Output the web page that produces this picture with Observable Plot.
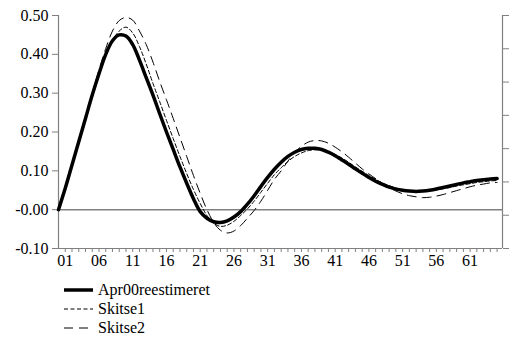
<!DOCTYPE html>
<html>
<head>
<meta charset="utf-8">
<script src="https://cdn.jsdelivr.net/npm/d3@7"></script>
<script src="https://cdn.jsdelivr.net/npm/@observablehq/plot@0.6"></script>
<style>
  html, body { margin: 0; padding: 0; background: #fff; }
  #chart { width: 510px; }
  .legend { font-family: "Liberation Serif", "DejaVu Serif", serif; font-size: 16px; color: #000; margin-left: 64px; margin-top: 10px; }
  .legend .row { display: flex; align-items: center; height: 19px; }
  .legend svg { margin-right: 5px; }
</style>
</head>
<body>
<div id="chart"></div>
<script>
// Categories (periods), labelled every 5th from 01
const periods = d3.range(0, 66);
const xTickLabels = ["01","06","11","16","21","26","31","36","41","46","51","56","61"];
const xTickPositions = [1,6,11,16,21,26,31,36,41,46,51,56,61];
const yTicks = [0.5, 0.4, 0.3, 0.2, 0.1, 0, -0.1];
const yTickLabels = ["0.50","0.40","0.30","0.20","0.10","-0.00","-0.10"];
const rightTicks = [0.5, 0.4143, 0.3286, 0.2429, 0.1571, 0.0714, -0.0143, -0.1];

const seriesNames = ["Apr00reestimeret", "Skitse1", "Skitse2"];

const apr00 = [
  0.000, 0.055, 0.115, 0.175, 0.235, 0.295, 0.350, 0.400, 0.435, 0.450,
  0.447, 0.425, 0.385, 0.340, 0.295, 0.247, 0.200, 0.155, 0.110, 0.068,
  0.028, -0.005, -0.022, -0.031, -0.033, -0.029, -0.019, -0.005, 0.014, 0.036,
  0.060, 0.083, 0.104, 0.122, 0.137, 0.148, 0.155, 0.158, 0.158, 0.155,
  0.148, 0.139, 0.128, 0.117, 0.105, 0.094, 0.083, 0.073, 0.065, 0.058,
  0.053, 0.050, 0.048, 0.047, 0.048, 0.050, 0.053, 0.057, 0.061, 0.065,
  0.069, 0.072, 0.075, 0.077, 0.079, 0.080
];
const skitse1 = [
  0.000, 0.052, 0.110, 0.170, 0.230, 0.290, 0.345, 0.395, 0.435, 0.460,
  0.470, 0.455, 0.420, 0.375, 0.325, 0.278, 0.230, 0.183, 0.137, 0.093,
  0.052, 0.016, -0.015, -0.035, -0.043, -0.040, -0.030, -0.015, 0.002, 0.022,
  0.045, 0.068, 0.090, 0.108, 0.124, 0.137, 0.146, 0.152, 0.154, 0.153,
  0.149, 0.142, 0.133, 0.122, 0.110, 0.099, 0.088, 0.078, 0.069, 0.062,
  0.056, 0.052, 0.049, 0.048, 0.048, 0.049, 0.051, 0.054, 0.057, 0.061,
  0.064, 0.067, 0.070, 0.072, 0.074, 0.075
];
const skitse2 = [
  0.000, 0.055, 0.115, 0.178, 0.240, 0.300, 0.360, 0.415, 0.460, 0.487,
  0.495, 0.488, 0.460, 0.425, 0.380, 0.330, 0.283, 0.235, 0.186, 0.137,
  0.088, 0.042, 0.000, -0.033, -0.053, -0.060, -0.055, -0.041, -0.022, -0.002,
  0.022, 0.050, 0.078, 0.100, 0.125, 0.147, 0.163, 0.174, 0.178, 0.177,
  0.171, 0.161, 0.149, 0.135, 0.120, 0.105, 0.092, 0.080, 0.068, 0.057,
  0.048, 0.041, 0.036, 0.033, 0.031, 0.032, 0.035, 0.039, 0.044, 0.049,
  0.054, 0.059, 0.063, 0.066, 0.069, 0.070
];

const toRows = (vals) => periods.map((p, i) => ({x: p, y: vals[i]}));
const gray = "#808080";
const xMax = 65.8;
const serifStack = "'Liberation Serif', 'DejaVu Serif', serif";

const chart = Plot.plot({
  width: 510,
  height: 270,
  marginLeft: 58,
  marginRight: 8,
  marginTop: 15,
  marginBottom: 22,
  style: {fontFamily: serifStack, fontSize: "16px", color: "#000", background: "#fff", overflow: "visible"},
  x: {domain: [0, xMax], axis: null},
  y: {domain: [-0.1, 0.5], axis: null},
  marks: [
    Plot.ruleY([0], {stroke: gray, strokeWidth: 1.5}),
    Plot.ruleX([0], {y1: -0.1, y2: 0.5, stroke: gray, strokeWidth: 1.2}),
    Plot.ruleX([xMax], {y1: -0.1, y2: 0.5, stroke: gray, strokeWidth: 1.2}),
    Plot.ruleY([-0.1], {x1: 0, x2: xMax, stroke: gray, strokeWidth: 1.2}),
    Plot.axisY({anchor: "left", ticks: yTicks, tickSize: 6, tickPadding: 4, label: null,
      tickFormat: (d) => yTickLabels[yTicks.indexOf(d)], stroke: gray, fill: "#000",
      fontSize: 16, fontFamily: serifStack}),
    Plot.axisY({anchor: "right", ticks: rightTicks, tickSize: 6, label: null, tickFormat: () => "", stroke: gray}),
    Plot.axisX({ticks: periods.slice(1), tickSize: 4, tickPadding: 2, label: null,
      tickFormat: (d) => { const k = xTickPositions.indexOf(d); return k >= 0 ? xTickLabels[k] : ""; },
      stroke: gray, fill: "#000", fontSize: 16, fontFamily: serifStack}),
    Plot.line(toRows(apr00), {x: "x", y: "y", stroke: "#000", strokeWidth: 3.5, curve: "catmull-rom"}),
    Plot.line(toRows(skitse1), {x: "x", y: "y", stroke: "#000", strokeWidth: 1, strokeDasharray: "4,2.5", curve: "catmull-rom"}),
    Plot.line(toRows(skitse2), {x: "x", y: "y", stroke: "#000", strokeWidth: 1, strokeDasharray: "9,6", curve: "catmull-rom"})
  ]
});
document.getElementById("chart").appendChild(chart);

// Legend below the chart
const legend = d3.select("#chart").append("div").attr("class", "legend");
const legendStyles = [
  {w: 3.5, dash: null},
  {w: 1, dash: "4,2.5"},
  {w: 1, dash: "9,6"}
];
seriesNames.forEach((name, i) => {
  const row = legend.append("div").attr("class", "row");
  const s = row.append("svg").attr("width", 29).attr("height", 10);
  const l = s.append("line").attr("x1", 0).attr("x2", 29).attr("y1", 5).attr("y2", 5)
    .attr("stroke", "#000").attr("stroke-width", legendStyles[i].w);
  if (legendStyles[i].dash) l.attr("stroke-dasharray", legendStyles[i].dash);
  row.append("span").text(name);
});
</script>
</body>
</html>
